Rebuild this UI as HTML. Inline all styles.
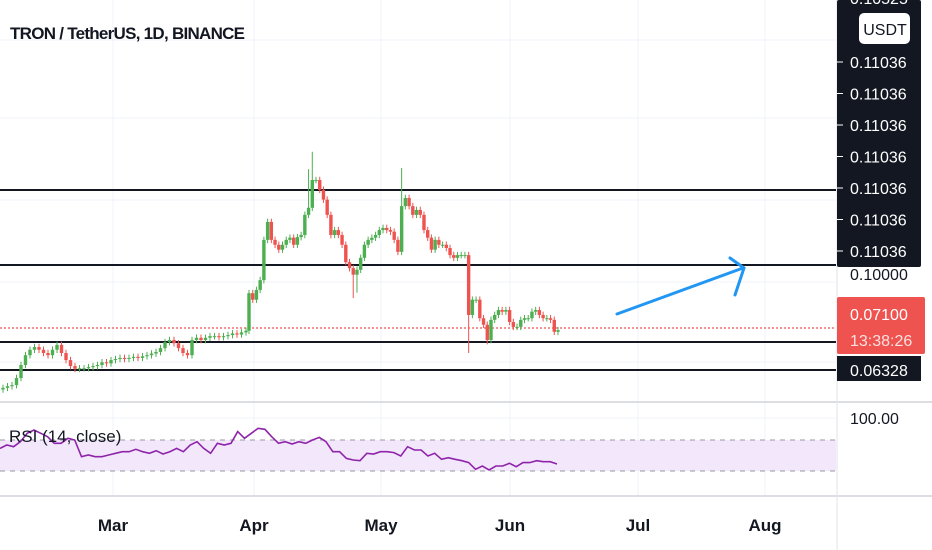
<!DOCTYPE html>
<html><head><meta charset="utf-8"><style>
html,body{margin:0;padding:0;background:#fff;width:932px;height:550px;overflow:hidden;font-family:"Liberation Sans",sans-serif}
svg{display:block}
</style></head><body>
<svg id="chart" width="932" height="550" viewBox="0 0 932 550" xmlns="http://www.w3.org/2000/svg">
<g id="grid"></g>
<g id="levels"></g>
<g id="candles"></g>
<g id="rsi"></g>
<g id="axis"></g>
<text x="10" y="39" font-size="17" font-weight="bold" fill="#131722" textLength="235">TRON / TetherUS, 1D, BINANCE</text>
<g stroke="#2196f3" stroke-width="3" stroke-linecap="round" fill="none">
<line x1="617" y1="314" x2="743" y2="268"/>
<polyline points="730,258 744,268 735,295"/>
</g>
</svg>
<script>
const closes = [60.0,60.3,60.5,61.8,64.2,66.0,67.0,67.5,67.0,66.4,66.0,67.0,67.9,66.4,65.1,64.0,63.5,63.6,63.6,63.8,64.0,64.2,64.7,64.5,65.1,65.3,65.5,65.3,65.5,65.7,65.5,65.8,66.0,66.3,66.6,67.3,68.4,68.8,68.2,67.3,66.4,66.0,68.8,69.2,68.8,69.2,69.5,69.5,69.3,69.5,69.7,70.0,69.8,70.2,70.5,
77.4,76.2,78.0,79.8,87.2,90.5,87.2,86.3,85.4,86.3,87.2,87.6,86.3,87.7,88.1,91.8,93.1,98.2,98.2,96.4,94.6,91.8,88.1,89.0,88.1,86.3,83.1,82.0,80.8,81.7,83.9,86.3,87.2,87.6,88.1,89.0,89.4,89.0,88.7,87.2,85.0,93.4,94.9,93.4,91.8,92.7,91.8,89.0,87.6,85.4,87.2,86.3,86.3,85.7,84.4,83.9,84.4,84.4,84.4,73.4,76.2,76.2,72.8,71.6,68.8,72.5,73.4,74.3,74.0,74.3,72.1,71.2,71.2,72.5,72.8,72.8,74.0,74.3,73.4,72.8,72.8,72.5,70.3,70.6];
const spikeIdx = [71, 72, 96, 83, 84, 114, 119];
const spikeHigh = [100.2, 103.4, 100.4, 0, 0, 0, 0];
const spikeLow = [0, 0, 0, 76.5, 77.5, 66.4, 68.0];
const rsiValues = [59.2,63.5,61.4,67.8,78.6,82.9,78.6,74.3,65.7,65.7,72.2,70,48.5,50.6,48.5,48.5,50.6,52.8,54.9,54.9,58.0,54.9,52.8,56.2,51.9,54.9,59.2,54.9,63.5,67.8,59.2,52.8,65.7,63.5,65.7,80.8,72.2,78.6,85.1,83.8,74.3,65.7,67.8,64.8,67.8,65.7,70,73.4,67.8,54.9,54.9,46.3,44.2,43.3,52.8,51.9,54.9,54.9,53.7,49.4,61.4,57.1,57.1,49.4,52.8,45.1,47.2,45.1,43.3,40.8,32.2,36.5,31.3,36.5,36.5,39.9,35.6,40.8,40.8,43.3,42.0,42.0,39.0];
const levelPrices = [0.09637, 0.08258, 0.06843, 0.06328];
const monthLabels = ["Mar","Apr","May","Jun","Jul","Aug"];
const monthX = [113,254,381,510,638,765];
const priceLabels = ["0.11036","0.11036","0.11036","0.11036","0.11036","0.11036","0.11036"];
const lastPrice = 0.071;

const NS="http://www.w3.org/2000/svg";
function el(tag, attrs, parent){const e=document.createElementNS(NS,tag);for(const k in attrs)e.setAttribute(k,attrs[k]);parent.appendChild(e);return e;}
const yP = p => 328 - (p - 0.071) * 5440;
const yR = v => 440 + (70 - v) * 0.775;
const PW = 836;
const grid=document.getElementById('grid');
[40,118,200,282,362,418].forEach(y=>{const l=el('line',{x1:0,x2:PW,y1:y,y2:y,stroke:'#f0f3fa','stroke-width':1},grid);

});
monthX.forEach(x=>{const l=el('line',{x1:x,x2:x,y1:0,y2:496,stroke:'#f0f3fa','stroke-width':1},grid);

});

const lv=document.getElementById('levels');
const dl=el('line',{x1:0,x2:PW,y1:yP(lastPrice),y2:yP(lastPrice),stroke:'#ef5350','stroke-width':1.2,'stroke-dasharray':'2,2'},lv);


levelPrices.forEach(p=>{const l=el('line',{x1:0,x2:PW,y1:yP(p),y2:yP(p),stroke:'#131722','stroke-width':2},lv);

});

const cg=document.getElementById('candles');
const n=closes.length, split=55;
const xOf = i => i<split ? 3 + i*(243/(split-1)) : 249 + (i-split)*(309/(n-1-split));
for(let i=0;i<n;i++){
  const c=closes[i]/1000, o=(i?closes[i-1]:closes[0]-0.3)/1000;
  let hi=Math.max(o,c)+0.0006, lo=Math.min(o,c)-0.0006;
  const k=spikeIdx.indexOf(i);
  if(k>=0){ if(spikeHigh[k]) hi=spikeHigh[k]/1000; if(spikeLow[k]) lo=spikeLow[k]/1000; }
  const x=xOf(i), col=c>=o?'#4caf50':'#ef5350';
  const g=el('g',{},cg);
  
  
  el('line',{x1:x,x2:x,y1:yP(hi),y2:yP(lo),stroke:col,'stroke-width':1},g);
  const top=Math.min(yP(o),yP(c)), h=Math.max(1,Math.abs(yP(o)-yP(c)));
  el('rect',{x:x-1.7,y:top,width:3.4,height:h,fill:col},g);
}

const rg=document.getElementById('rsi');
const band=el('rect',{x:0,y:yR(70),width:PW,height:yR(30)-yR(70),fill:'#f3e8fb'},rg);


[70,30].forEach(v=>{const l=el('line',{x1:0,x2:PW,y1:yR(v),y2:yR(v),stroke:'#9598a1','stroke-width':1,'stroke-dasharray':'5,5'},rg);

});
const rstep=557/(rsiValues.length-1);
const pl=el('polyline',{points:rsiValues.map((v,i)=>(i*rstep).toFixed(1)+','+yR(v).toFixed(1)).join(' '),fill:'none',stroke:'#8e24aa','stroke-width':1.6},rg);


const rt=el('text',{x:9,y:442,'font-size':17,fill:'#131722'},rg);rt.textContent='RSI (14, close)';



const ax=document.getElementById('axis');
[402,496].forEach(y=>{const l=el('line',{x1:0,x2:932,y1:y,y2:y,stroke:'#d1d4dc','stroke-width':1.5},ax);

});
const vs=el('line',{x1:837,x2:837,y1:0,y2:550,stroke:'#e0e3eb','stroke-width':1},ax);


monthLabels.forEach((m,i)=>{const t=el('text',{x:monthX[i],y:531,'font-size':17,'font-weight':'bold','text-anchor':'middle',fill:'#131722'},ax);t.textContent=m;

});
const t0=el('text',{x:850,y:280,'font-size':16,fill:'#131722'},ax);t0.textContent='0.10000';


const strip=el('rect',{x:837,y:0,width:84,height:267,fill:'#131722',rx:2},ax);


const tp=el('text',{x:850,y:4,'font-size':16,fill:'#fff'},ax);tp.textContent='0.10525';


priceLabels.forEach((s,i)=>{const y=68+i*31.5;
  el('line',{x1:837,x2:843,y1:y-6,y2:y-6,stroke:'#fff','stroke-width':1},ax);
  const t=el('text',{x:850,y:y,'font-size':16,fill:'#fff'},ax);t.textContent=s;
  
  });
const ub=el('rect',{x:859,y:13,width:51,height:31,rx:5,fill:'#fff'},ax);


const ut=el('text',{x:885,y:35,'font-size':16,fill:'#131722','text-anchor':'middle'},ax);ut.textContent='USDT';


const rb=el('rect',{x:837,y:297,width:88,height:57,rx:2,fill:'#ef5350'},ax);


const lp=el('text',{x:850,y:320,'font-size':16,fill:'#fff'},ax);lp.textContent='0.07100';


const cd=el('text',{x:850,y:346,'font-size':16,fill:'#fde0e0'},ax);cd.textContent='13:38:26';


const lb=el('rect',{x:837,y:356,width:84,height:25,fill:'#131722'},ax);


const lt=el('text',{x:850,y:376,'font-size':16,fill:'#fff'},ax);lt.textContent='0.06328';


const r100=el('text',{x:850,y:424,'font-size':16,fill:'#131722'},ax);r100.textContent='100.00';


</script>
</body></html>
